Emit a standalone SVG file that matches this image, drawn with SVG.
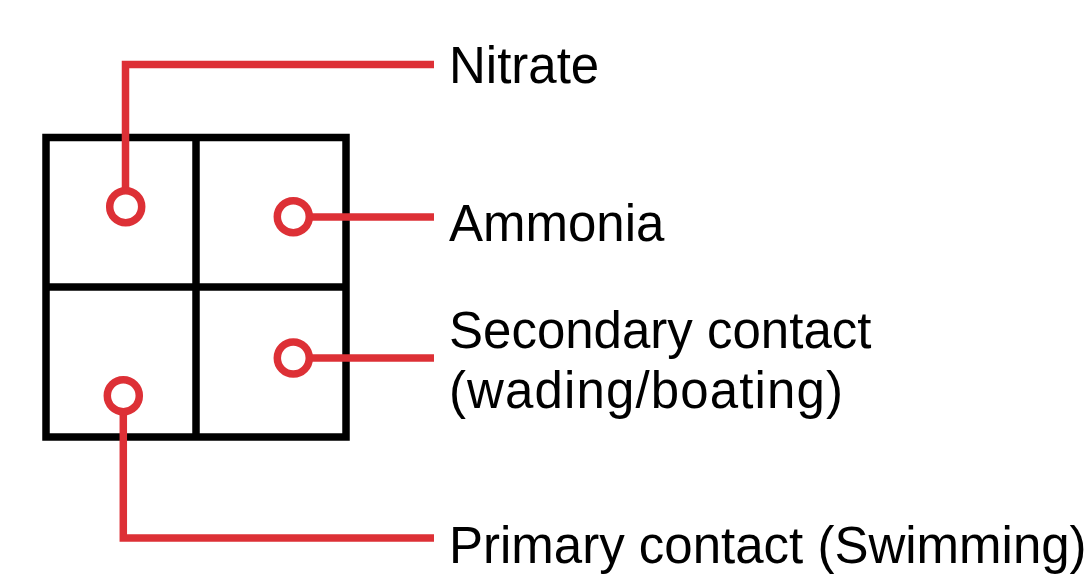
<svg xmlns="http://www.w3.org/2000/svg" width="1088" height="576" viewBox="0 0 1088 576">
<style>
.grid{fill:none;stroke:#000;stroke-width:7.5}
.lead{fill:none;stroke:#dd3036;stroke-width:7.5}
.dot{fill:#fff;stroke:#dd3036;stroke-width:7.5}
.lbl{font-family:"Liberation Sans",Arial,sans-serif;font-size:51px;fill:#000}
</style>
<rect width="1088" height="576" fill="#fff"/>
<g id="grid">
<rect class="grid" x="46" y="137.5" width="300" height="299.5"/>
<line class="grid" x1="196" y1="137.5" x2="196" y2="437"/>
<line class="grid" x1="46" y1="287" x2="346" y2="287"/>
</g>
<g id="connectors">
<polyline class="lead" points="125.5,191 125.5,64.5 434,64.5"/>
<line class="lead" x1="309" y1="217" x2="434" y2="217"/>
<line class="lead" x1="309" y1="358" x2="434" y2="358"/>
<polyline class="lead" points="123.3,411 123.3,538 434,538"/>
</g>
<g id="node-nitrate">
<circle class="dot" cx="125.7" cy="206.7" r="16"/>
<text class="lbl" x="449" y="83">Nitrate</text>
</g>
<g id="node-ammonia">
<circle class="dot" cx="293.3" cy="216.7" r="16"/>
<text class="lbl" x="449" y="240.5">Ammonia</text>
</g>
<g id="node-secondary">
<circle class="dot" cx="293.3" cy="358" r="16"/>
<text class="lbl" x="449" y="348">Secondary contact</text>
<text class="lbl" x="449" y="408" textLength="394" lengthAdjust="spacing">(wading/boating)</text>
</g>
<g id="node-primary">
<circle class="dot" cx="123.3" cy="395.7" r="16"/>
<text class="lbl" x="449" y="563">Primary contact (Swimming)</text>
</g>
</svg>
